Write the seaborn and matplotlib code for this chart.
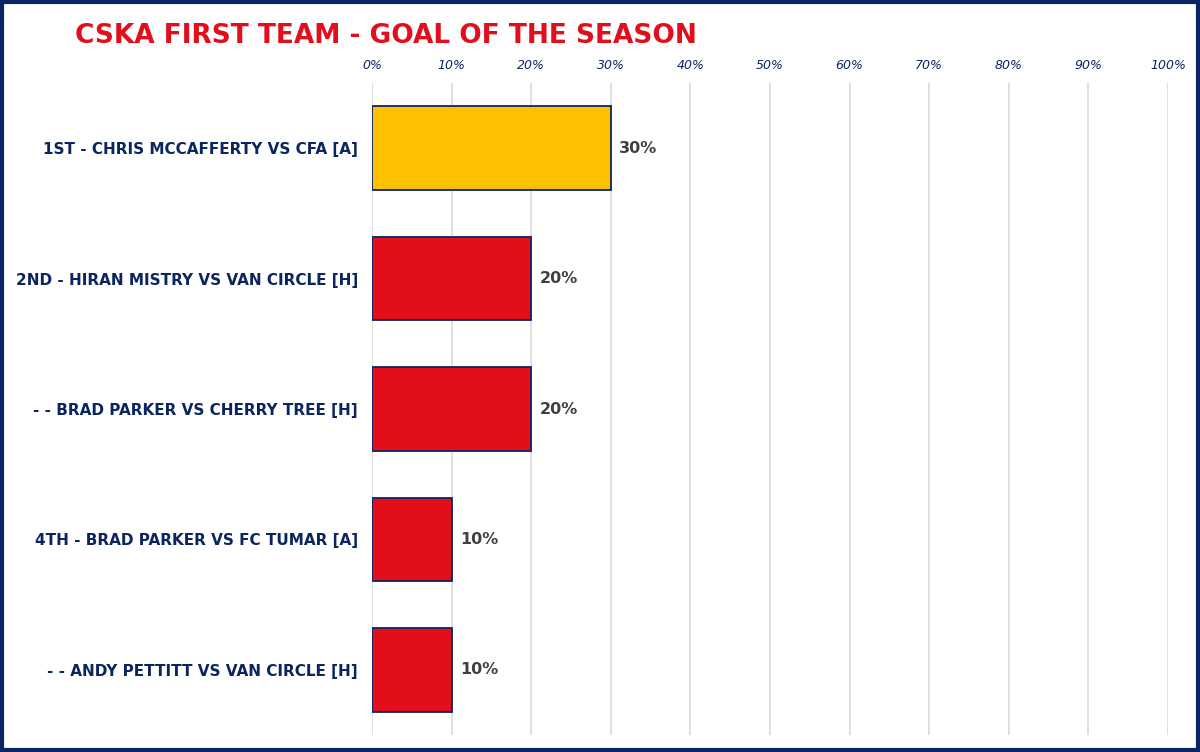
import matplotlib
matplotlib.use("Agg")
import matplotlib.pyplot as plt
import seaborn as sns
import pandas as pd
from matplotlib.patches import Rectangle
from matplotlib.ticker import PercentFormatter

labels = [
    "1ST - CHRIS MCCAFFERTY VS CFA [A]",
    "2ND - HIRAN MISTRY VS VAN CIRCLE [H]",
    "- - BRAD PARKER VS CHERRY TREE [H]",
    "4TH - BRAD PARKER VS FC TUMAR [A]",
    "- - ANDY PETTITT VS VAN CIRCLE [H]",
]
values = [30, 20, 20, 10, 10]
groups = ["winner", "other", "other", "other", "other"]
palette = {"winner": "#FFC000", "other": "#E30E1B"}
x_ticks = [0, 10, 20, 30, 40, 50, 60, 70, 80, 90, 100]

navy = "#0B2560"

df = pd.DataFrame({"label": labels, "value": values, "group": groups})

sns.set_theme(style="white")
plt.rcParams['font.family'] = ['DejaVu Sans']

fig = plt.figure(figsize=(12, 7.52), dpi=100)
ax = fig.add_axes([0.31, 0.0226, 0.6633, 0.867])

sns.barplot(data=df, y="label", x="value", hue="group", palette=palette,
            order=labels, dodge=False, width=0.64, edgecolor=navy,
            linewidth=1.3, saturation=1, legend=False, ax=ax)

ax.set_xlim(0, 100)
ax.set_ylim(4.5, -0.5)
ax.set_xticks(x_ticks)
ax.xaxis.set_major_formatter(PercentFormatter(decimals=0))
ax.xaxis.tick_top()
ax.tick_params(axis="x", length=0, pad=8, labelsize=9, labelcolor=navy)
for t in ax.get_xticklabels():
    t.set_fontstyle("italic")
ax.tick_params(axis="y", length=0, pad=10, labelsize=11, labelcolor=navy)
for t in ax.get_yticklabels():
    t.set_fontweight("bold")
ax.set_xlabel("")
ax.set_ylabel("")
ax.grid(axis="x", color="#D9D9D9", linewidth=1.2)
ax.set_axisbelow(True)
for s in ax.spines.values():
    s.set_visible(False)

for c in ax.containers:
    ax.bar_label(c, labels=[f"{v:.0f}%" for v in c.datavalues], padding=6,
                 fontsize=11.5, fontweight="bold", color="#404040")

fig.text(0.0625, 0.952, "CSKA FIRST TEAM - GOAL OF THE SEASON", color="#E30E1B",
         fontsize=19, fontweight="bold", va="center", ha="left")

fig.patches.append(Rectangle((0.0015, 0.002), 0.997, 0.996, transform=fig.transFigure,
                             fill=False, edgecolor=navy, linewidth=3, zorder=10))

fig.savefig("out.png", dpi=100, facecolor="white")
